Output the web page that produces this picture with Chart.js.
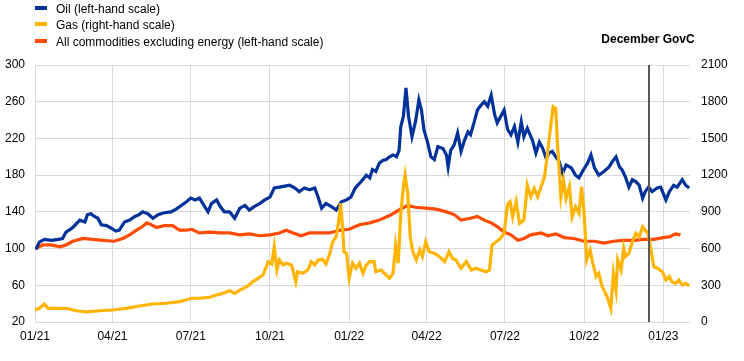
<!DOCTYPE html>
<html>
<head>
<meta charset="utf-8">
<script src="https://cdn.jsdelivr.net/npm/chart.js@4.4.0/dist/chart.umd.min.js"></script>
<style>
  body { margin: 0; background: #fff; }
  .wrap { position: relative; width: 744px; height: 361px; font-family: "Liberation Sans", Arial, sans-serif; font-size: 12px; color: #000; }
  .legend-item { position: absolute; left: 35px; height: 17px; line-height: 17px; white-space: nowrap; }
  .legend-item .swatch { position: absolute; left: 0; top: 5px; width: 12px; height: 4px; }
  .legend-item .label { position: absolute; left: 21px; top: 0; }
  canvas { position: absolute; left: 0; top: 0; }
</style>
</head>
<body>
<div class="wrap">
  <canvas id="chart" width="744" height="361"></canvas>
  <div class="legend"></div>
</div>
<script>
// x values are days since 1 January 2021
const tickDays = [0, 90, 181, 273, 365, 455, 546, 638, 730];
const tickLabels = ["01/21", "04/21", "07/21", "10/21", "01/22", "04/22", "07/22", "10/22", "01/23"];
const govcDay = 713; // 15 December 2022
const govcLabel = "December GovC";

const oilDays = [1, 5, 11, 19, 27, 32, 36, 44, 52, 58, 61, 65, 69, 73, 77, 83, 89, 94, 98, 104, 110, 116, 121, 125, 131, 137, 143, 150, 158, 164, 170, 176, 181,
  186, 191, 197, 201, 205, 211, 215, 220, 226, 232, 238, 244, 249, 255, 261, 267, 273, 278, 284, 290, 296, 302, 307, 313, 319, 325, 329, 333, 338, 344, 350, 356, 362, 367, 371,
  373, 379, 385, 389, 392, 396, 400, 404, 408, 412, 416, 420, 423, 425, 428, 431, 434, 438, 442, 446, 449, 452, 456, 460, 464, 468, 474, 478, 480, 483, 487, 491, 495, 499, 503, 506, 510, 514, 518, 522, 526, 530, 534, 537, 541, 545, 549,
  553, 557, 561, 565, 568, 572, 578, 582, 586, 590, 594, 597, 601, 605, 609, 613, 617, 623, 628, 632, 636, 642, 646, 650, 655, 661, 667, 671, 675, 679, 682, 686, 690, 694, 698, 702, 706, 709, 713, 717, 723, 727, 733, 737, 742, 746, 752, 756, 760];
const oilValues = [99, 107, 110, 109, 110, 111, 118, 123, 131, 129, 137, 138, 135, 133, 126, 125, 122, 119, 120, 129, 131, 135, 137, 140, 138, 133, 137, 139, 140, 143, 147, 151, 155,
  153, 155, 146, 140, 149, 153, 146, 140, 140, 133, 144, 147, 142, 146, 149, 153, 156, 166, 167, 168, 169, 166, 162, 166, 164, 166, 156, 144, 149, 146, 142, 151, 153, 156, 164,
  167, 173, 180, 177, 186, 184, 193, 196, 197, 200, 202, 200, 207, 233, 244, 275, 244, 222, 238, 262, 251, 229, 216, 200, 197, 211, 209, 202, 189, 207, 213, 226, 206, 218, 227, 224, 237, 251, 256, 260, 255, 267, 246, 237, 244, 251, 230,
  224, 233, 216, 238, 222, 231, 218, 204, 216, 209, 198, 204, 206, 200, 195, 182, 191, 188, 180, 177, 184, 193, 202, 188, 180, 184, 189, 195, 200, 189, 186, 178, 167, 175, 173, 169, 155, 162, 167, 162, 166, 167, 153, 162, 169, 167, 175, 169, 166];

const gasDays = [0, 5, 11, 15, 25, 36, 48, 60, 75, 90, 106, 121, 137, 152, 168, 182,
  191, 203, 211, 218, 226, 232, 238, 246, 253, 259, 265, 271, 275, 278, 281, 284, 288, 292, 298, 303, 305, 311, 317, 321, 325, 329, 334, 338, 342, 346, 350, 353, 355, 357, 359, 362, 365,
  369, 373, 377, 381, 385, 389, 394, 396, 402, 408, 412, 416, 419, 422, 425, 428, 430, 433, 436, 439, 443, 447, 450, 454, 458, 464, 470, 476, 481, 485, 489, 495, 501, 507, 512, 518, 524, 528, 531, 536, 541, 545,
  549, 552, 555, 559, 563, 568, 572, 576, 580, 584, 588, 592, 595, 599, 602, 605, 607, 609, 611, 614, 617, 621, 624, 628, 632, 635, 638, 641, 645, 648, 652, 655, 659, 663, 666, 669, 672, 675, 677, 681, 684, 686, 690, 694, 698, 702, 706, 710, 712, 715, 719, 723, 729, 733, 737, 740, 744, 748, 752, 756, 760];
const gasValues = [98, 112, 147, 112, 112, 112, 92, 82, 92, 98, 112, 131, 147, 153, 166, 194,
  194, 202, 221, 234, 256, 234, 261, 289, 329, 357, 384, 493, 474, 615, 425, 507, 466, 480, 466, 329, 411, 398, 425, 493, 466, 507, 512, 474, 547, 656, 697, 833, 970, 806, 574, 561, 357,
  480, 439, 480, 398, 466, 493, 493, 411, 425, 384, 357, 398, 629, 480, 888, 1106, 1201, 1052, 697, 574, 507, 588, 534, 656, 574, 561, 534, 493, 574, 520, 507, 439, 493, 425, 439, 425, 411, 425, 629, 656, 684, 725,
  960, 983, 860, 983, 806, 833, 1119, 1024, 1092, 1024, 1106, 1187, 1351, 1596, 1759, 1746, 1460, 1242, 1024, 1160, 1010, 1106, 860, 942, 888, 1106, 888, 507, 588, 480, 370, 398, 289, 234, 180, 112, 398, 261, 507, 425, 602, 534, 561, 656, 725, 697, 779, 738, 738, 615, 452, 439, 411, 343, 370, 329, 316, 343, 302, 316, 294];

const nonEnergyDays = [1, 9, 19, 29, 36, 44, 56, 67, 79, 92, 102, 110, 118, 125, 130, 135, 141, 150, 160, 168, 176, 182,
  191, 203, 215, 226, 238, 249, 261, 273, 284, 292, 300, 309, 319, 331, 342, 354, 365,
  377, 389, 400, 412, 423, 433, 442, 454, 466, 478, 487, 495, 506, 514, 522, 530, 537, 545,
  553, 561, 568, 576, 588, 596, 605, 615, 626, 638, 650, 661, 672, 684, 696, 707, 719, 730, 738, 744, 750];
const nonEnergyValues = [100, 104, 104, 102, 104, 108, 111, 110, 109, 108, 111, 115, 120, 124, 128, 126, 123, 125, 125, 120, 120, 121,
  117, 118, 117, 117, 115, 116, 114, 115, 117, 120, 117, 114, 117, 117, 117, 120, 121,
  126, 128, 131, 136, 142, 147, 145, 144, 143, 140, 137, 131, 133, 135, 131, 128, 124, 118,
  115, 109, 111, 115, 117, 114, 116, 112, 111, 108, 108, 106, 108, 109, 109, 110, 110, 112, 113, 116, 115];

const series = [
  { label: "Oil (left-hand scale)", days: oilDays, values: oilValues, color: "#003299", axis: "yLeft", order: 1 },
  { label: "Gas (right-hand scale)", days: gasDays, values: gasValues, color: "#ffb400", axis: "yRight", order: 0 },
  { label: "All commodities excluding energy (left-hand scale)", days: nonEnergyDays, values: nonEnergyValues, color: "#ff4b00", axis: "yLeft", order: 2 },
];

// legend
const legendBox = document.querySelector(".legend");
legendBox.innerHTML = series
  .map((s, i) => {
    return `<div class="legend-item" style="top:${0.5 + i * 16.7}px">
      <span class="swatch" style="background:${s.color}"></span>
      <span class="label">${s.label}</span>
    </div>`;
  })
  .join("");

const govcLine = {
  id: "govcLine",
  afterDatasetsDraw(chart) {
    const { ctx, chartArea, scales } = chart;
    const x = Math.round(scales.x.getPixelForValue(govcDay));
    ctx.save();
    ctx.strokeStyle = "#595959";
    ctx.lineWidth = 2;
    ctx.beginPath();
    ctx.moveTo(x, chartArea.top);
    ctx.lineTo(x, chartArea.bottom);
    ctx.stroke();
    ctx.fillStyle = "#000";
    ctx.font = 'bold 12px "Liberation Sans", Arial, sans-serif';
    ctx.textAlign = "center";
    ctx.textBaseline = "middle";
    ctx.fillText(govcLabel, x - 1, 39.5);
    ctx.restore();
  },
};

Chart.defaults.font.family = '"Liberation Sans", Arial, sans-serif';
Chart.defaults.font.size = 12;
Chart.defaults.color = "#000";

const gridColor = "#d9d9d9";

new Chart(document.getElementById("chart"), {
  type: "line",
  data: {
    datasets: series.map((s) => ({
      label: s.label,
      data: s.days.map((d, i) => ({ x: d, y: s.values[i] })),
      borderColor: s.color,
      backgroundColor: s.color,
      borderWidth: 3.2,
      pointRadius: 0,
      tension: 0,
      yAxisID: s.axis,
      order: s.order,
    })),
  },
  options: {
    responsive: false,
    animation: false,
    layout: { padding: { top: 65, left: 0, right: 0, bottom: 0 } },
    plugins: { legend: { display: false }, tooltip: { enabled: false } },
    scales: {
      x: {
        type: "linear",
        min: 0,
        max: 761,
        afterBuildTicks: (scale) => {
          scale.ticks = tickDays.map((v) => ({ value: v }));
        },
        afterFit: (scale) => {
          scale.height = 39;
        },
        ticks: {
          autoSkip: false,
          maxRotation: 0,
          padding: 7,
          callback: (value, index) => tickLabels[index],
        },
        grid: { color: gridColor, drawTicks: false },
        border: { display: false },
      },
      yLeft: {
        position: "left",
        min: 20,
        max: 300,
        ticks: { stepSize: 40, padding: 10, callback: (value) => String(value) },
        afterFit: (scale) => {
          scale.width = 35;
        },
        grid: { color: gridColor, drawTicks: false },
        border: { display: false },
      },
      yRight: {
        position: "right",
        min: 0,
        max: 2100,
        ticks: { stepSize: 300, padding: 11, callback: (value) => String(value) },
        afterFit: (scale) => {
          scale.width = 54;
        },
        grid: { drawOnChartArea: false, drawTicks: false },
        border: { display: false },
      },
    },
  },
  plugins: [govcLine],
});
</script>
</body>
</html>
